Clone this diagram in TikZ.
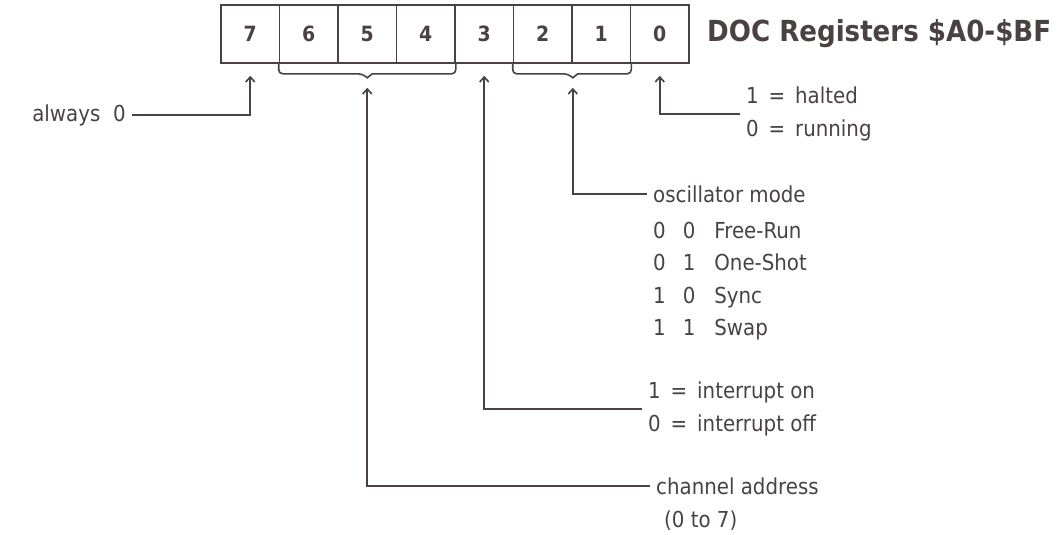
\documentclass[tikz,border=0pt]{standalone}
\usepackage{fontspec}
\setmainfont{DejaVu Sans}[FakeStretch=0.9]
\usetikzlibrary{positioning,calc,arrows.meta}
\definecolor{docink}{HTML}{4A4242}
\newcommand{\iseq}{\hspace{.45em}=\hspace{.45em}}
\tikzset{
  cell/.style={draw=docink, line width=1.6pt, minimum width=58.5pt, minimum height=58pt,
    inner sep=0pt, text=docink, font=\bfseries\fontsize{21}{24}\selectfont},
  hdr/.style={text=docink, inner sep=0pt, font=\bfseries\fontsize{29}{32}\selectfont},
  note/.style={text=docink, inner xsep=6pt, inner ysep=0pt, align=left,
    font=\fontsize{22}{32.5}\selectfont},
  flow/.style={-{Straight Barb[length=5pt,width=9pt]}, line width=1.6pt, draw=docink},
  brc/.style={line width=1.6pt, draw=docink},
}
\begin{document}
\begin{tikzpicture}[x=1pt, y=-1pt]
    \useasboundingbox (0,0) rectangle (1057,535);
    % bits
    \node[cell] (b7) at (250.25,34) {7};
    \node[cell] (b6) at (308.75,34) {6};
    \node[cell] (b5) at (367.25,34) {5};
    \node[cell] (b4) at (425.75,34) {4};
    \node[cell] (b3) at (484.25,34) {3};
    \node[cell] (b2) at (542.75,34) {2};
    \node[cell] (b1) at (601.25,34) {1};
    \node[cell] (b0) at (659.75,34) {0};
    \node[hdr, anchor=west] (ttl) at (707,34) {DOC Registers \$A0-\$BF};
    % braces
    \draw[brc] (b6.south west) [rounded corners=4pt] |- ($(b5.south)+(-5,10)$) [sharp corners]
      -- ($(b5.south)+(0,14)$) -- ($(b5.south)+(5,10)$) [rounded corners=4pt] -| (b4.south east);
    \draw[brc] (b2.south west) [rounded corners=4pt] |- ($(b2.south east)+(-5,10)$) [sharp corners]
      -- ($(b2.south east)+(0,14)$) -- ($(b2.south east)+(5,10)$) [rounded corners=4pt] -| (b1.south east);
    \coordinate (br654) at ($(b5.south)+(0,14)$);
    \coordinate (br21) at ($(b2.south east)+(0,14)$);
    % labels
    \node[note, anchor=east] (l7) at (132,115) {always\hspace{.3em} 0};
    \node[note, anchor=west] (l0) at (740,114) {1\iseq halted\\0\iseq running};
    \node[note, anchor=west] (l21) at (647,194) {oscillator mode};
    \node[note, anchor=base west] (modes) at ($(l21.base west)+(0,36)$)
      {\begin{tabular}[t]{@{}l@{\hspace{17pt}}l@{\hspace{19pt}}l@{}}
        0 & 0 & Free-Run\\ 0 & 1 & One-Shot\\ 1 & 0 & Sync\\ 1 & 1 & Swap
      \end{tabular}};
    \node[note, anchor=west] (l3) at (642,409) {1\iseq interrupt on\\0\iseq interrupt off};
    \node[note, anchor=west] (l654) at (650,486) {channel address};
    \node[note, anchor=base west] (rng) at ($(l654.base west)+(8,33)$) {(0 to 7)};
    \draw[flow, shorten >=12pt] (l7.east) -| (b7.south);
    \draw[flow, shorten >=12pt] (l0.west) -| (b0.south);
    \draw[flow, shorten >=10pt] (l21.west) -| (br21);
    \draw[flow, shorten >=12pt] (l3.west) -| (b3.south);
    \draw[flow, shorten >=10pt] (l654.west) -| (br654);
  \end{tikzpicture}
\end{document}
